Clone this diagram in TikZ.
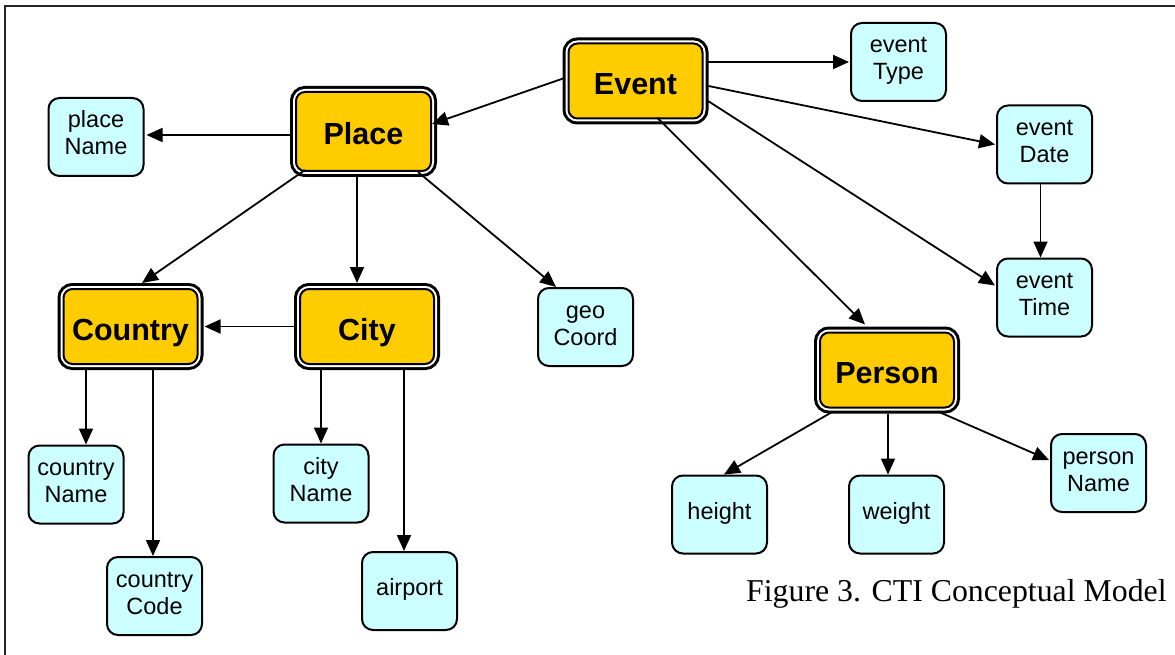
\documentclass[tikz,border=0pt]{standalone}
\usepackage{fontspec}
\setmainfont{Liberation Sans}
\newfontfamily\capfont{Liberation Serif}
\usetikzlibrary{arrows.meta,calc}
\definecolor{gold}{HTML}{FFCC00}
\definecolor{lcyan}{HTML}{CCFFFF}
\newcommand\topstrut{\rule{0pt}{18pt}}
\newcommand\botstrut{\rule[-9pt]{0pt}{0pt}}
\newcommand\twol[2]{\topstrut#1\\#2\botstrut}
\newcommand\onel[1]{\topstrut#1\botstrut}
\begin{document}
\begin{tikzpicture}[x=1pt,y=-1pt,
  concept/.style={rounded corners=9pt, fill=gold, draw=black, line width=2pt,
    preaction={draw=black, line width=12pt},
    preaction={draw=white, line width=6pt},
    inner sep=0pt, outer sep=6pt, minimum width=134pt, minimum height=75pt,
    text height=27pt, text depth=0pt,
    font=\fontsize{30.5}{34}\selectfont\bfseries},
  prop/.style={rounded corners=11pt, fill=lcyan, draw=black, line width=2pt,
    inner sep=0pt, outer sep=1pt, minimum width=95pt, minimum height=78pt,
    align=center, font=\fontsize{23.5}{27}\selectfont},
  conn/.style={line width=1.8pt, -{Triangle[length=16pt,width=14pt]}}]
\useasboundingbox (0,0) rectangle (1175,655);
\draw[line width=2pt, black!85] (5,660) -- (5,6) -- (1180,6);
% concepts
\node[concept] (Event) at (635.5,81) {Event};
\node[concept, minimum width=135pt, minimum height=79pt] (Place) at (363.5,131.5) {Place};
\node[concept] (Country) at (130.5,326.5) {Country};
\node[concept] (City) at (367,326.5) {City};
\node[concept] (Person) at (887,370) {Person};
% properties
\node[prop] (placeName) at (96,137) {\twol{place}{Name}};
\node[prop] (eventType) at (898.5,62) {\twol{event}{Type}};
\node[prop] (eventDate) at (1044.5,144.5) {\twol{event}{Date}};
\node[prop] (eventTime) at (1044.5,297.5) {\twol{event}{Time}};
\node[prop] (geoCoord) at (585.5,327) {\twol{geo}{Coord}};
\node[prop] (countryName) at (76,484.5) {\twol{country}{Name}};
\node[prop] (countryCode) at (154.5,596) {\twol{country}{Code}};
\node[prop] (cityName) at (321,483.5) {\twol{city}{Name}};
\node[prop] (airport) at (409.5,591) {\onel{airport}};
\node[prop] (height) at (719.5,514.5) {\onel{height}};
\node[prop] (weight) at (896.5,514.5) {\onel{weight}};
\node[prop] (personName) at (1098.5,473) {\twol{person}{Name}};
% caption
\node[anchor=base west, inner sep=0pt, font=\capfont\fontsize{31.8}{36}\selectfont] (caption) at (746,601) {Figure 3. CTI Conceptual Model};
% connectors
\draw[conn] ($(Event.west)+(2,-3)$) -- ($(Place.east)+(-5,-7.5)$);
\draw[conn] ($(Event.east)+(-2,-19)$) -- ($(eventType.west)+(-1,0)$);
\draw[conn] ($(Event.east)+(0,5)$) -- ($(eventDate.west)+(-1,0)$);
\draw[conn] ($(Event.east)+(-2,19)$) -- ($(eventTime.west)+(-1,-12)$);
\draw[conn] ($(Event.south)+(21.5,-7)$) -- ($(Person.north)+(-22,-2)$);
\draw[conn] ($(eventDate.south)+(-4,0)$) -- ($(eventTime.north)+(-4,0)$);
\draw[conn] ($(Place.west)+(0,3.5)$) -- ($(placeName.east)+(2,-2)$);
\draw[conn] ($(Place.south)+(-58.5,-7)$) -- ($(Country.north)+(11.5,0)$);
\draw[conn] ($(Place.south)+(-6.5,0)$) -- ($(City.north)+(-10,0)$);
\draw[conn] ($(Place.south)+(54.5,-5)$) -- ($(geoCoord.north)+(-29.5,0)$);
\draw[conn] ($(City.west)+(2,0)$) -- ($(Country.east)+(1,0)$);
\draw[conn] ($(Country.south)+(-44.5,-2)$) -- ($(countryName.north)+(10,0)$);
\draw[conn] ($(Country.south)+(22.5,-2)$) -- ($(countryCode.north)+(-1.5,0)$);
\draw[conn] ($(City.south)+(-46,-2)$) -- (cityName.north);
\draw[conn] ($(City.south)+(37,-2)$) -- ($(airport.north)+(-5.5,0)$);
\draw[conn] ($(Person.south)+(-54,-2)$) -- ($(height.north)+(4.5,0)$);
\draw[conn] ($(Person.south)+(1,0)$) -- ($(weight.north)+(-8.5,0)$);
\draw[conn] ($(Person.south)+(51,-2)$) -- ($(personName.west)+(-1,-13)$);
\end{tikzpicture}
\end{document}
